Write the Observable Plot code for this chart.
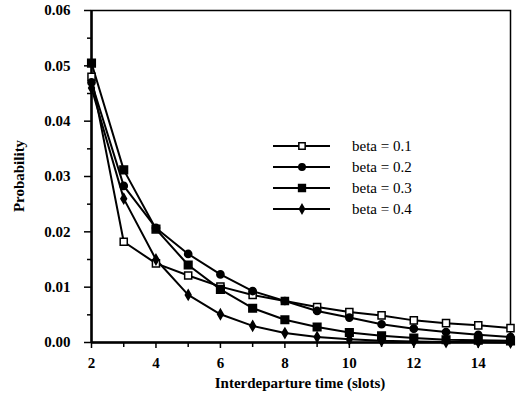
<!DOCTYPE html>
<html>
<head>
<meta charset="utf-8">
<script src="https://cdn.jsdelivr.net/npm/d3@7"></script>
<script src="https://cdn.jsdelivr.net/npm/@observablehq/plot@0.6"></script>
<style>
  html, body { margin: 0; padding: 0; background: #fff; }
  #chart { position: relative; width: 519px; height: 400px; }
</style>
</head>
<body>
<div id="chart"></div>
<script>
const slots = [2, 3, 4, 5, 6, 7, 8, 9, 10, 11, 12, 13, 14, 15];
const beta01 = [0.0480, 0.0182, 0.0143, 0.0121, 0.0101, 0.0086, 0.0075, 0.0064, 0.0055, 0.0049, 0.0040, 0.0035, 0.0031, 0.0026];
const beta02 = [0.0470, 0.0283, 0.0207, 0.0160, 0.0123, 0.0093, 0.0075, 0.0057, 0.0045, 0.0033, 0.0025, 0.0019, 0.0014, 0.0010];
const beta03 = [0.0505, 0.0312, 0.0205, 0.0140, 0.0096, 0.0062, 0.0041, 0.0028, 0.0018, 0.0012, 0.0008, 0.0005, 0.0004, 0.0003];
const beta04 = [0.0460, 0.0260, 0.0150, 0.0086, 0.0051, 0.0030, 0.0017, 0.0010, 0.0006, 0.0003, 0.0002, 0.0001, 0.0001, 0.0000];
const seriesNames = ["beta = 0.1", "beta = 0.2", "beta = 0.3", "beta = 0.4"];
const seriesValues = [beta01, beta02, beta03, beta04];
const xTicks = [2, 4, 6, 8, 10, 12, 14];
const xMinor = [3, 5, 7, 9, 11, 13, 15];
const yTicks = [0, 0.01, 0.02, 0.03, 0.04, 0.05, 0.06];
const yMinor = [0.005, 0.015, 0.025, 0.035, 0.045, 0.055];
const xTitle = "Interdeparture time (slots)";
const yTitle = "Probability";

const styles = {
  "beta = 0.1": {symbol: "square", fill: "white", r: 4},
  "beta = 0.2": {symbol: "circle", fill: "black", r: 3.6},
  "beta = 0.3": {symbol: "square", fill: "black", r: 4.3},
  "beta = 0.4": {symbol: "diamond", fill: "black", r: 3}
};

const rows = seriesNames.flatMap((name, i) =>
  slots.map((s, j) => ({series: name, x: s, y: seriesValues[i][j]})));

const font = "'Liberation Serif', 'Times New Roman', serif";

const marks = [
  Plot.frame({stroke: "black", strokeWidth: 1.5}),
  Plot.axisX({ticks: xMinor, tickSize: 5, text: null, label: null, strokeWidth: 1.5}),
  Plot.axisX({ticks: xTicks, tickSize: 6, tickPadding: 9, label: null,
    fontSize: 15, fontWeight: "bold", strokeWidth: 1.5}),
  Plot.axisY({ticks: yMinor, tickSize: 4, text: null, label: null, strokeWidth: 1.5}),
  Plot.axisY({ticks: yTicks, tickSize: 7, tickPadding: 14, label: null,
    tickFormat: d3.format(".2f"), fontSize: 15, fontWeight: "bold", strokeWidth: 1.5}),
  Plot.ruleX([2], {stroke: "black", strokeWidth: 2.5}),
  Plot.ruleY([0], {stroke: "black", strokeWidth: 2.5})
];
seriesNames.forEach(name => {
  const d = rows.filter(r => r.series === name);
  marks.push(Plot.line(d, {x: "x", y: "y", stroke: "black", strokeWidth: 2}));
});
seriesNames.forEach(name => {
  const d = rows.filter(r => r.series === name);
  const st = styles[name];
  marks.push(Plot.dot(d, {x: "x", y: "y", symbol: () => st.symbol, r: st.r,
    fill: st.fill, stroke: "black", strokeWidth: 1.5}));
});

const svg = Plot.plot({
  width: 519,
  height: 400,
  marginLeft: 91,
  marginRight: 9,
  marginTop: 10,
  marginBottom: 58,
  style: {fontFamily: font, background: "white", color: "black"},
  x: {domain: [2, 15]},
  y: {domain: [0, 0.06]},
  marks
});

const root = d3.select(svg);
// axis titles
root.append("text")
  .attr("x", 300).attr("y", 388)
  .attr("text-anchor", "middle")
  .style("font-family", font).style("font-weight", "bold").style("font-size", "15px")
  .text(xTitle);
root.append("text")
  .attr("transform", "translate(24,176) rotate(-90)")
  .attr("text-anchor", "middle")
  .style("font-family", font).style("font-weight", "bold").style("font-size", "15px")
  .text(yTitle);

// legend
const lg = root.append("g").attr("transform", "translate(273,146)");
seriesNames.forEach((name, i) => {
  const st = styles[name];
  const g = lg.append("g").attr("transform", `translate(0,${i * 21})`);
  g.append("line").attr("x1", 0).attr("x2", 57).attr("y1", 0).attr("y2", 0)
    .attr("stroke", "black").attr("stroke-width", 2);
  const sym = {square: d3.symbolSquare, circle: d3.symbolCircle, diamond: d3.symbolDiamond}[st.symbol];
  g.append("path")
    .attr("transform", "translate(29,0)")
    .attr("d", d3.symbol(sym, Math.PI * st.r * st.r * 0.8)())
    .attr("fill", st.fill).attr("stroke", "black").attr("stroke-width", 1.5);
  g.append("text").attr("x", 79).attr("y", 5)
    .attr("text-anchor", "start")
    .style("font-family", font).style("font-size", "15px")
    .text(name);
});

document.getElementById("chart").appendChild(svg);
</script>
</body>
</html>
